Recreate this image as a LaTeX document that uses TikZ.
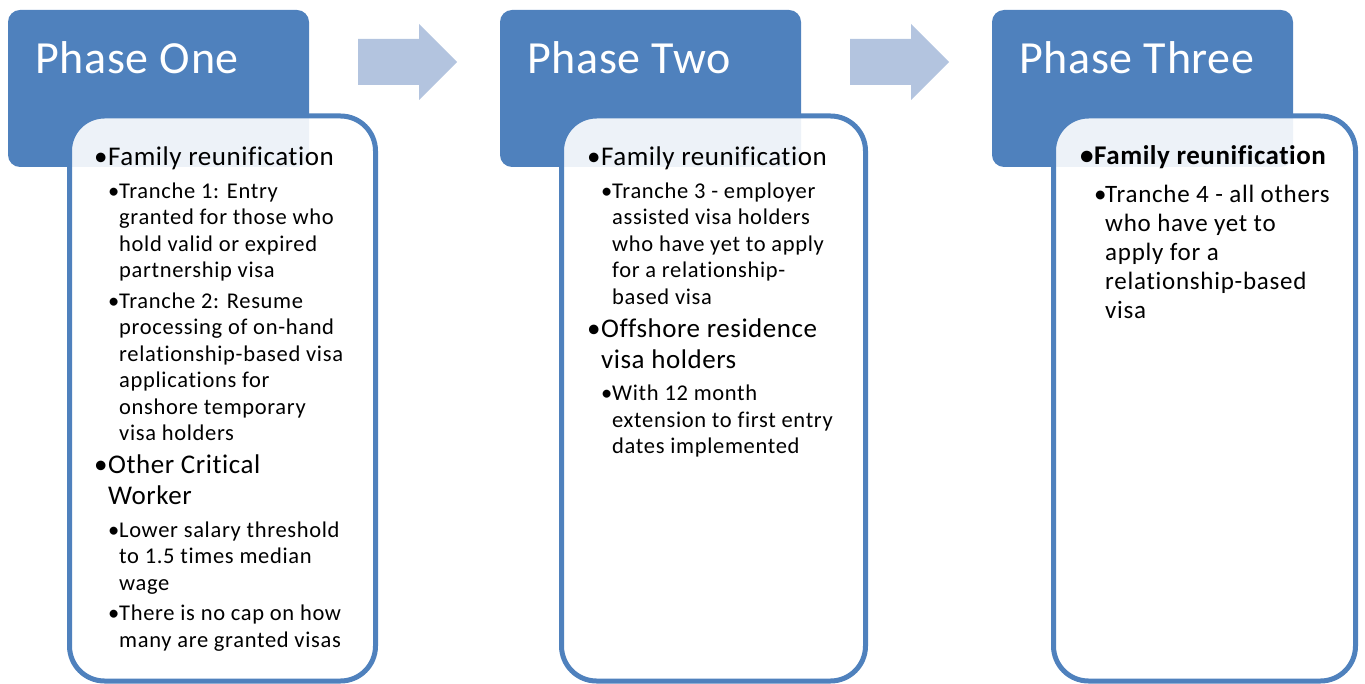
\documentclass[tikz,border=0pt]{standalone}
\usepackage{fontspec}
\setmainfont{Carlito}[Ligatures=CommonOff]
\usetikzlibrary{positioning,calc}

\definecolor{phaseblue}{RGB}{79,129,189}
\definecolor{arrowblue}{RGB}{179,196,223}

% list levels
\newcommand{\lvlone}[2][]{\par{\fontsize{27}{31}\selectfont#1\addfontfeatures{LetterSpace=2}%
  \hangindent=11pt\hangafter=1\noindent\makebox[11pt][l]{\kern-3pt\textbullet}#2\par}\vskip2pt}
\newcommand{\lvltwo}[2][\fontsize{22.5}{26.5}\selectfont]{\par\vskip2pt{#1\addfontfeatures{LetterSpace=3}%
  \leftskip=13pt\hangindent=9pt\hangafter=1\noindent\makebox[9pt][l]{\kern-2pt\textbullet}#2\par}}
\newcommand{\phaselist}[1]{\parbox[t]{285pt}{\rightskip=0pt plus 1fil\setlength{\parskip}{2pt}#1}}

\tikzset{
  phasehead/.style={fill=phaseblue, rounded corners=12pt, minimum width=301pt,
    minimum height=157pt, anchor=north west, inner sep=0, outer sep=0},
  phasebody/.style={draw=phaseblue, line width=5pt, fill=white, fill opacity=.9,
    rounded corners=35pt, minimum height=565pt,
    anchor=north west, inner sep=0, outer sep=0},
  phasetitle/.style={text=white, font=\fontsize{46}{54}\selectfont\addfontfeatures{LetterSpace=1.5},
    anchor=base west, inner sep=0},
  phasetext/.style={anchor=base west, inner sep=0}
}

\begin{document}
\begin{tikzpicture}[x=1pt,y=-1pt]
\useasboundingbox (0,0) rectangle (1365,684);

% arrows between phases
\foreach \x in {358,850}
\fill[arrowblue, shift={(\x,0)}] (0,39) -- (61,39) -- (61,24) -- (99,62)
  -- (61,100) -- (61,85) -- (0,85) -- cycle;

% headers and bodies
\foreach \n/\x/\w in {1/8/306,2/500/304,3/992/302}{
  \node[phasehead] (head\n) at (\x,10) {};
  \node[phasebody, minimum width=\w pt] (body\n) at (\x+61.5,116) {};
}

% titles
\foreach \n/\t in {1/One,2/Two,3/Three}
\node[phasetitle] (title\n) at ($(head\n.north west)+(27,64)$) {Phase \t};

% PHASE ONE
\node[phasetext] (list1) at ($(body1.north west)+(27.5,50)$) {\phaselist{%
  \lvlone{Family reunification}
  \lvltwo{Tranche 1: Entry\\granted for those who\\hold valid or expired\\partnership visa}
  \lvltwo{Tranche 2: Resume\\processing of on-hand\\relationship-based visa\\applications for\\onshore temporary\\visa holders}
  \lvlone{Other Critical\\Worker}
  \lvltwo{Lower salary threshold\\to 1.5 times median\\wage}
  \lvltwo{There is no cap on how\\many are granted visas}}};

% PHASE TWO
\node[phasetext] (list2) at ($(body2.north west)+(28.5,50)$) {\phaselist{%
  \lvlone{Family reunification}
  \lvltwo{Tranche 3 - employer\\assisted visa holders\\who have yet to apply\\for a relationship-\\based visa}
  \lvlone{Offshore residence\\visa holders}
  \lvltwo{With 12 month\\extension to first entry\\dates implemented}}};

% PHASE THREE
\node[phasetext] (list3) at ($(body3.north west)+(29.5,49)$) {\phaselist{%
  \lvlone[\bfseries]{Family reunification}
  \vskip3pt
  \lvltwo[\fontsize{25}{29}\selectfont]{Tranche 4 - all others\\who have yet to\\apply for a\\relationship-based\\visa}}};

\end{tikzpicture}
\end{document}
